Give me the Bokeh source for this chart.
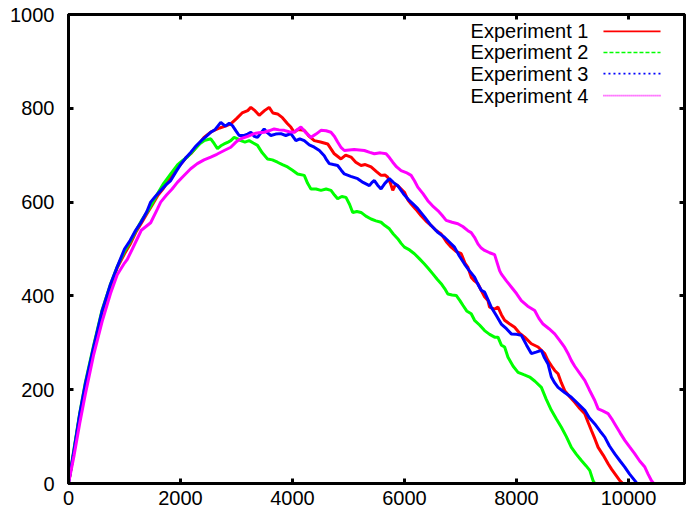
from bokeh.plotting import figure
from bokeh.models import Range1d, FixedTicker, LinearAxis, Label, Arrow
from bokeh.embed import file_html
from bokeh.resources import INLINE

# ---------------- data ----------------
exp1_x = [0, 100, 200, 300, 450, 600, 750, 870, 1000, 1100, 1200, 1300, 1400, 1500, 1600, 1700,
          1800, 1900, 2000, 2100, 2200, 2300, 2420, 2550, 2700, 2800, 2898, 3000, 3100, 3200, 3256,
          3330, 3405, 3500, 3583, 3650, 3733, 3820, 3912, 3970, 4031, 4100, 4210, 4300, 4389, 4500,
          4628, 4746, 4866, 4950, 5045, 5130, 5224, 5300, 5403, 5500, 5581, 5650, 5701, 5750, 5790,
          5840, 5879, 5940, 5998, 6060, 6118, 6200, 6297, 6380, 6476, 6560, 6655, 6750, 6834, 6920,
          7013, 7080, 7132, 7191, 7250, 7311, 7370, 7430, 7490, 7519, 7609, 7669, 7730, 7788, 7880,
          7967, 8060, 8146, 8265, 8385, 8504, 8563, 8630, 8682, 8742, 8800, 8861, 8950, 9040, 9130,
          9219, 9280, 9338, 9400, 9458, 9550, 9636, 9700, 9755, 9845, 9900, 10900]
exp1_y = [0, 70, 145, 205, 290, 365, 420, 460, 490, 510, 535, 555, 575, 595, 615, 630,
          648, 668, 680, 695, 705, 720, 738, 750, 758, 762, 767, 778, 790, 795, 802,
          795, 785, 795, 802, 790, 788, 780, 767, 760, 749, 755, 753, 740, 731, 728,
          724, 703, 692, 700, 696, 685, 678, 680, 675, 665, 657, 658, 653, 640, 625,
          638, 635, 628, 621, 605, 596, 585, 571, 560, 550, 540, 532, 515, 504, 495,
          490, 470, 461, 440, 432, 426, 412, 398, 390, 376, 372, 376, 360, 348, 340,
          333, 320, 312, 298, 291, 277, 262, 250, 241, 234, 215, 198, 185, 173, 160,
          149, 130, 113, 95, 77, 60, 42, 30, 21, 6, 0, 0]

exp2_x = [0, 100, 200, 300, 450, 600, 750, 870, 1000, 1100, 1200, 1300, 1400, 1500, 1600, 1700,
          1825, 1950, 2050, 2123, 2250, 2350, 2420, 2540, 2600, 2660, 2720, 2779, 2850, 2898, 2958,
          3020, 3077, 3150, 3226, 3300, 3375, 3460, 3554, 3640, 3733, 3820, 3912, 4000, 4091, 4210,
          4270, 4329, 4420, 4508, 4600, 4687, 4750, 4806, 4880, 4955, 5020, 5075, 5150, 5224, 5310,
          5403, 5490, 5581, 5650, 5730, 5800, 5879, 5940, 5998, 6090, 6177, 6260, 6356, 6430, 6506,
          6580, 6655, 6720, 6774, 6850, 6923, 6990, 7043, 7110, 7191, 7251, 7340, 7430, 7520, 7609,
          7669, 7730, 7788, 7848, 7940, 8027, 8130, 8235, 8330, 8444, 8530, 8623, 8710, 8801, 8890,
          8980, 9070, 9159, 9240, 9308, 9368, 9400, 10900]
exp2_y = [0, 75, 150, 215, 295, 370, 425, 462, 495, 515, 538, 560, 578, 598, 620, 640,
          660, 680, 690, 696, 712, 725, 731, 735, 725, 714, 720, 724, 728, 731, 738,
          735, 731, 728, 731, 726, 721, 705, 692, 690, 685, 680, 675, 668, 660, 657,
          640, 628, 628, 625, 628, 625, 615, 607, 612, 610, 595, 578, 580, 578, 570,
          564, 560, 557, 550, 543, 532, 522, 512, 504, 498, 490, 480, 468, 458, 447,
          436, 426, 415, 404, 402, 401, 390, 380, 368, 362, 348, 338, 326, 318, 312,
          312, 295, 291, 269, 250, 237, 232, 227, 218, 205, 180, 156, 138, 120, 100,
          77, 62, 49, 38, 28, 6, 0, 0]

exp3_x = [0, 100, 200, 300, 450, 600, 750, 870, 1000, 1100, 1200, 1300, 1400, 1467, 1550, 1650,
          1750, 1825, 1920, 2000, 2100, 2182, 2280, 2380, 2460, 2540, 2620, 2719, 2800, 2870, 2928,
          2990, 3047, 3137, 3200, 3256, 3320, 3375, 3440, 3494, 3550, 3614, 3700, 3792, 3880, 3971,
          4061, 4130, 4210, 4300, 4389, 4480, 4567, 4610, 4657, 4730, 4806, 4870, 4925, 5040, 5164,
          5260, 5373, 5420, 5462, 5520, 5581, 5650, 5730, 5800, 5879, 5980, 6088, 6160, 6237, 6360,
          6476, 6600, 6714, 6800, 6893, 6980, 7072, 7150, 7251, 7310, 7370, 7430, 7490, 7549, 7640,
          7728, 7820, 7907, 8000, 8086, 8180, 8265, 8350, 8444, 8500, 8563, 8623, 8680, 8742, 8860,
          8980, 9100, 9219, 9300, 9398, 9490, 9577, 9660, 9755, 9850, 9934, 10020, 10113, 10150, 10900]
exp3_y = [0, 72, 148, 212, 292, 368, 425, 462, 500, 518, 540, 558, 580, 600, 612, 625,
          638, 646, 665, 680, 695, 706, 720, 732, 740, 749, 755, 770, 762, 768, 763,
          752, 742, 742, 745, 749, 740, 738, 748, 756, 748, 742, 745, 746, 742, 746,
          731, 735, 731, 722, 717, 710, 699, 690, 682, 680, 678, 668, 660, 655, 650,
          642, 635, 642, 646, 636, 628, 640, 650, 642, 635, 618, 603, 595, 586, 568,
          550, 535, 525, 515, 504, 485, 468, 455, 440, 425, 412, 408, 392, 376, 358,
          340, 330, 319, 318, 316, 295, 277, 280, 284, 268, 255, 227, 215, 205, 194,
          184, 170, 156, 140, 127, 112, 99, 80, 63, 48, 35, 20, 6, 0, 0]

exp4_x = [0, 100, 200, 300, 450, 600, 750, 870, 1000, 1050, 1140, 1300, 1467, 1587, 1646, 1750,
          1850, 1944, 2050, 2182, 2300, 2420, 2540, 2650, 2780, 2898, 2990, 3077, 3200, 3315, 3400,
          3494, 3580, 3673, 3760, 3852, 3940, 4031, 4090, 4150, 4240, 4329, 4420, 4508, 4600, 4687,
          4750, 4806, 4870, 4925, 5100, 5283, 5380, 5462, 5570, 5671, 5730, 5790, 5860, 5939, 6030,
          6118, 6180, 6237, 6330, 6416, 6500, 6595, 6670, 6744, 6850, 6953, 7040, 7132, 7191, 7250,
          7311, 7370, 7430, 7520, 7609, 7698, 7728, 7820, 7907, 8000, 8086, 8200, 8325, 8400, 8474,
          8580, 8682, 8770, 8861, 8930, 8980, 9040, 9130, 9219, 9300, 9398, 9458, 9540, 9636, 9700,
          9755, 9850, 9934, 10020, 10113, 10200, 10292, 10350, 10411, 10450, 10900]
exp4_y = [0, 60, 128, 190, 275, 345, 405, 445, 470, 478, 500, 540, 556, 585, 600, 615,
          628, 642, 655, 671, 682, 690, 696, 702, 710, 717, 728, 735, 740, 746, 748,
          749, 752, 756, 754, 753, 750, 749, 755, 760, 748, 738, 745, 753, 752, 749,
          740, 728, 716, 710, 712, 710, 706, 703, 705, 703, 695, 685, 675, 667, 663,
          657, 645, 632, 618, 603, 592, 582, 572, 561, 557, 554, 548, 539, 535, 525,
          511, 502, 497, 492, 488, 454, 447, 432, 419, 405, 390, 378, 369, 352, 340,
          330, 319, 305, 290, 275, 262, 250, 235, 220, 200, 177, 159, 155, 149, 138,
          127, 108, 92, 78, 63, 48, 35, 20, 6, 0, 0]

series_x = [exp1_x, exp2_x, exp3_x, exp4_x]
series_y = [exp1_y, exp2_y, exp3_y, exp4_y]
series_names = ["Experiment 1", "Experiment 2", "Experiment 3", "Experiment 4"]
series_colors = ["#ff0000", "#00ff00", "#0000ff", "#ff00ff"]
legend_dashes = ["solid", "4 2", "2 3", "1 1"]

x_ticks = [0, 2000, 4000, 6000, 8000, 10000]
y_ticks = [0, 200, 400, 600, 800, 1000]
x_max = 11000
y_max = 1000

# ---------------- layout constants ----------------
FONT = "Liberation Sans"
FSIZE = "20px"
legend_text_x = 9284
legend_line_x0 = 9553
legend_line_x1 = 10572
legend_rows_y = [964, 919, 874, 827]

p = figure(width=688, height=515, output_backend="svg", toolbar_location=None,
           x_range=Range1d(0, x_max), y_range=Range1d(0, y_max),
           min_border_left=68, min_border_right=4, min_border_top=14, min_border_bottom=32)
p.xgrid.visible = False
p.ygrid.visible = False
p.background_fill_color = "white"
p.border_fill_color = "white"
p.outline_line_color = "black"
p.outline_line_width = 3

for xs, ys, c in zip(series_x, series_y, series_colors):
    p.line(xs, ys, line_color=c, line_width=3)


def style_axis(ax, labels=True):
    ax.axis_line_color = "black"
    ax.axis_line_width = 3
    ax.major_tick_line_color = "black"
    ax.major_tick_line_width = 3
    ax.major_tick_in = 5
    ax.major_tick_out = 0
    ax.minor_tick_line_color = None
    ax.major_label_text_font = FONT
    if labels:
        ax.major_label_text_font_size = FSIZE
        ax.major_label_text_color = "black"
    else:
        ax.major_label_text_font_size = "1px"
        ax.major_label_text_color = None
        ax.major_label_standoff = 0


p.xaxis.ticker = FixedTicker(ticks=x_ticks)
p.yaxis.ticker = FixedTicker(ticks=y_ticks)
style_axis(p.xaxis[0])
style_axis(p.yaxis[0])
p.xaxis.major_label_standoff = 7
p.yaxis.major_label_standoff = 14

top_ax = LinearAxis(ticker=FixedTicker(ticks=x_ticks))
right_ax = LinearAxis(ticker=FixedTicker(ticks=y_ticks))
style_axis(top_ax, labels=False)
style_axis(right_ax, labels=False)
p.add_layout(top_ax, "above")
p.add_layout(right_ax, "right")

for name, c, dash, yy in zip(series_names, series_colors, legend_dashes, legend_rows_y):
    p.add_layout(Label(x=legend_text_x, y=yy, text=name, text_align="right",
                       text_baseline="middle", text_font=FONT, text_font_size=FSIZE,
                       text_color="black"))
    p.add_layout(Arrow(end=None, x_start=legend_line_x0, y_start=yy,
                       x_end=legend_line_x1, y_end=yy,
                       line_color=c, line_width=1.6, line_dash=dash))

open("out.html", "w").write(file_html(p, INLINE))
